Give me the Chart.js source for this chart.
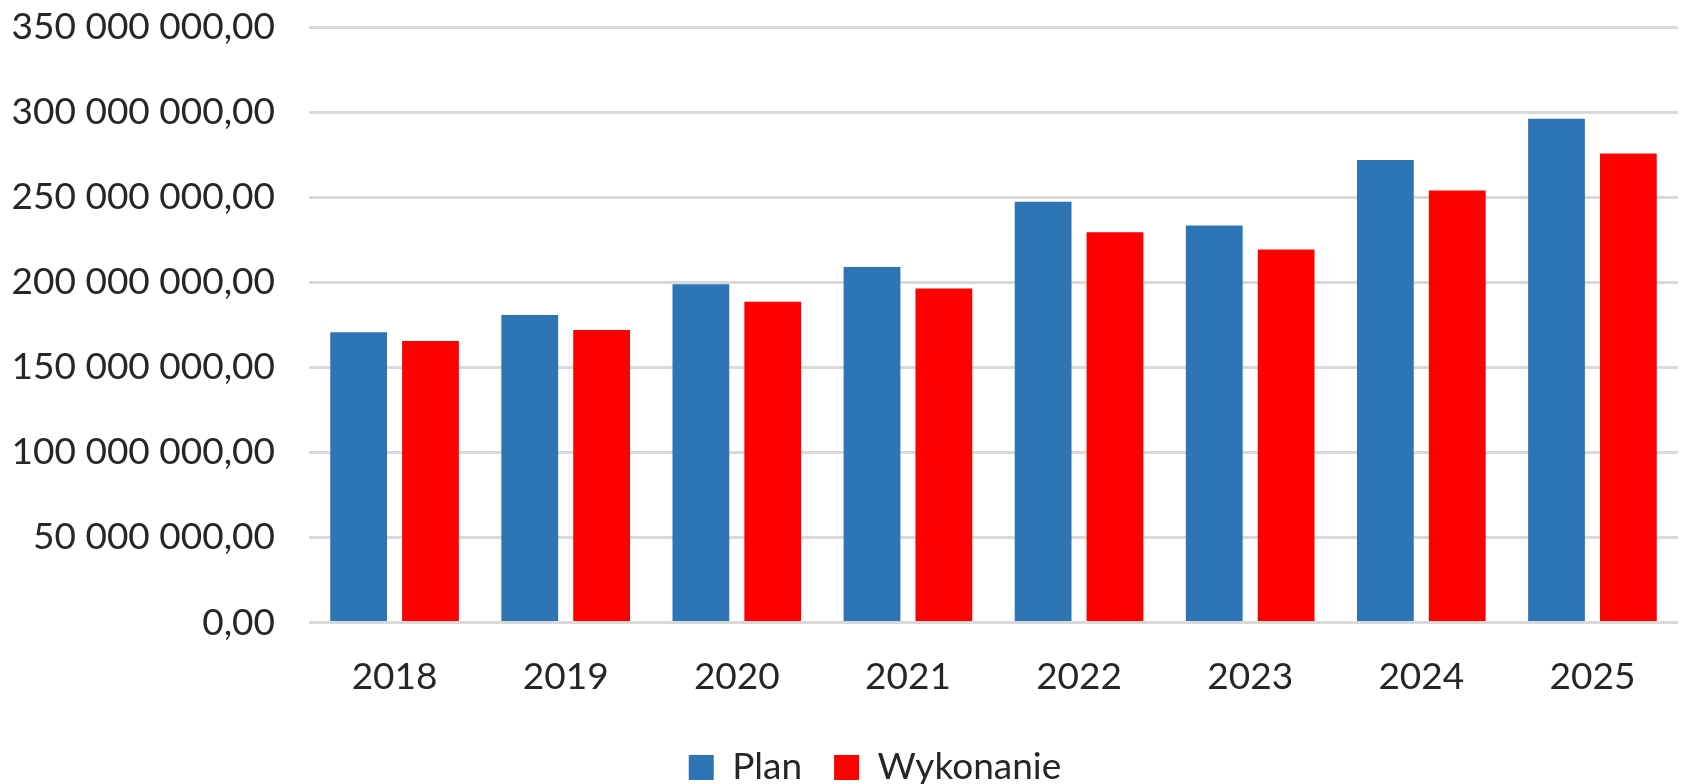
<!DOCTYPE html>
<html>
<head>
<meta charset="utf-8">
<script src="https://cdn.jsdelivr.net/npm/chart.js@4/dist/chart.umd.min.js"></script>
<style>
  html, body { margin: 0; padding: 0; background: #fff; }
  #wrap { width: 1683px; height: 784px; position: relative; }
</style>
</head>
<body>
<div id="wrap"><canvas id="chart"></canvas></div>
<script>
// values
const years = ['2018', '2019', '2020', '2021', '2022', '2023', '2024', '2025'];
const plan = [170.6e6, 180.8e6, 198.8e6, 209.0e6, 247.3e6, 233.4e6, 271.8e6, 296.1e6];
const wykonanie = [165.5e6, 172.0e6, 188.5e6, 196.3e6, 229.4e6, 219.2e6, 253.9e6, 275.7e6];
const yTicks = [0, 50e6, 100e6, 150e6, 200e6, 250e6, 300e6, 350e6];

// "350 000 000,00" style
function fmt(v) {
    const parts = Math.round(v).toString().replace(/\B(?=(\d{3})+(?!\d))/g, ' ');
    return parts + ',00';
}

// nudge the legend to where the original has it
const shiftLegend = {
    id: 'shiftLegend',
    afterLayout(chart) {
        const lg = chart.legend;
        lg.left += 36; lg.right += 36;
        lg.top += 12; lg.bottom += 12;
    }
};

Chart.defaults.font.family = 'Lato, "Open Sans", sans-serif';
Chart.defaults.color = '#262626';

const ctx = document.getElementById('chart').getContext('2d');
const chart = new Chart(ctx, {
    type: 'bar',
    data: {
        labels: years,
        datasets: [
            { label: 'Plan', data: plan, backgroundColor: '#2E75B6', borderWidth: 0 },
            { label: 'Wykonanie', data: wykonanie, backgroundColor: '#FF0000', borderWidth: 0 }
        ]
    },
    plugins: [shiftLegend],
    options: {
        responsive: true,
        maintainAspectRatio: false,
        animation: false,
        layout: { padding: { top: 0, right: 5, left: 0, bottom: 0 } },
        datasets: {
            bar: { categoryPercentage: 0.84, barPercentage: 0.79 }
        },
        scales: {
            x: {
                grid: { display: false },
                border: { display: false },
                ticks: { font: { size: 37 }, padding: 24 },
                afterFit: function(scale) { scale.height -= 18; }
            },
            y: {
                min: 0,
                max: 350e6,
                afterBuildTicks: function(scale) {
                    scale.ticks = yTicks.map(v => ({ value: v }));
                },
                afterFit: function(scale) {
                    scale.width = 309;
                    scale.paddingTop = 27;
                    scale.paddingBottom = 0;
                },
                grid: { color: '#d9d9d9', lineWidth: 3, drawTicks: false },
                border: { display: false },
                ticks: {
                    font: { size: 37 },
                    padding: 34,
                    callback: function(value) { return fmt(value); }
                }
            }
        },
        plugins: {
            legend: {
                position: 'bottom',
                labels: {
                    boxWidth: 25,
                    boxHeight: 25,
                    padding: 32,
                    font: { size: 37 }
                }
            },
            tooltip: { enabled: false }
        }
    }
});
</script>
</body>
</html>
